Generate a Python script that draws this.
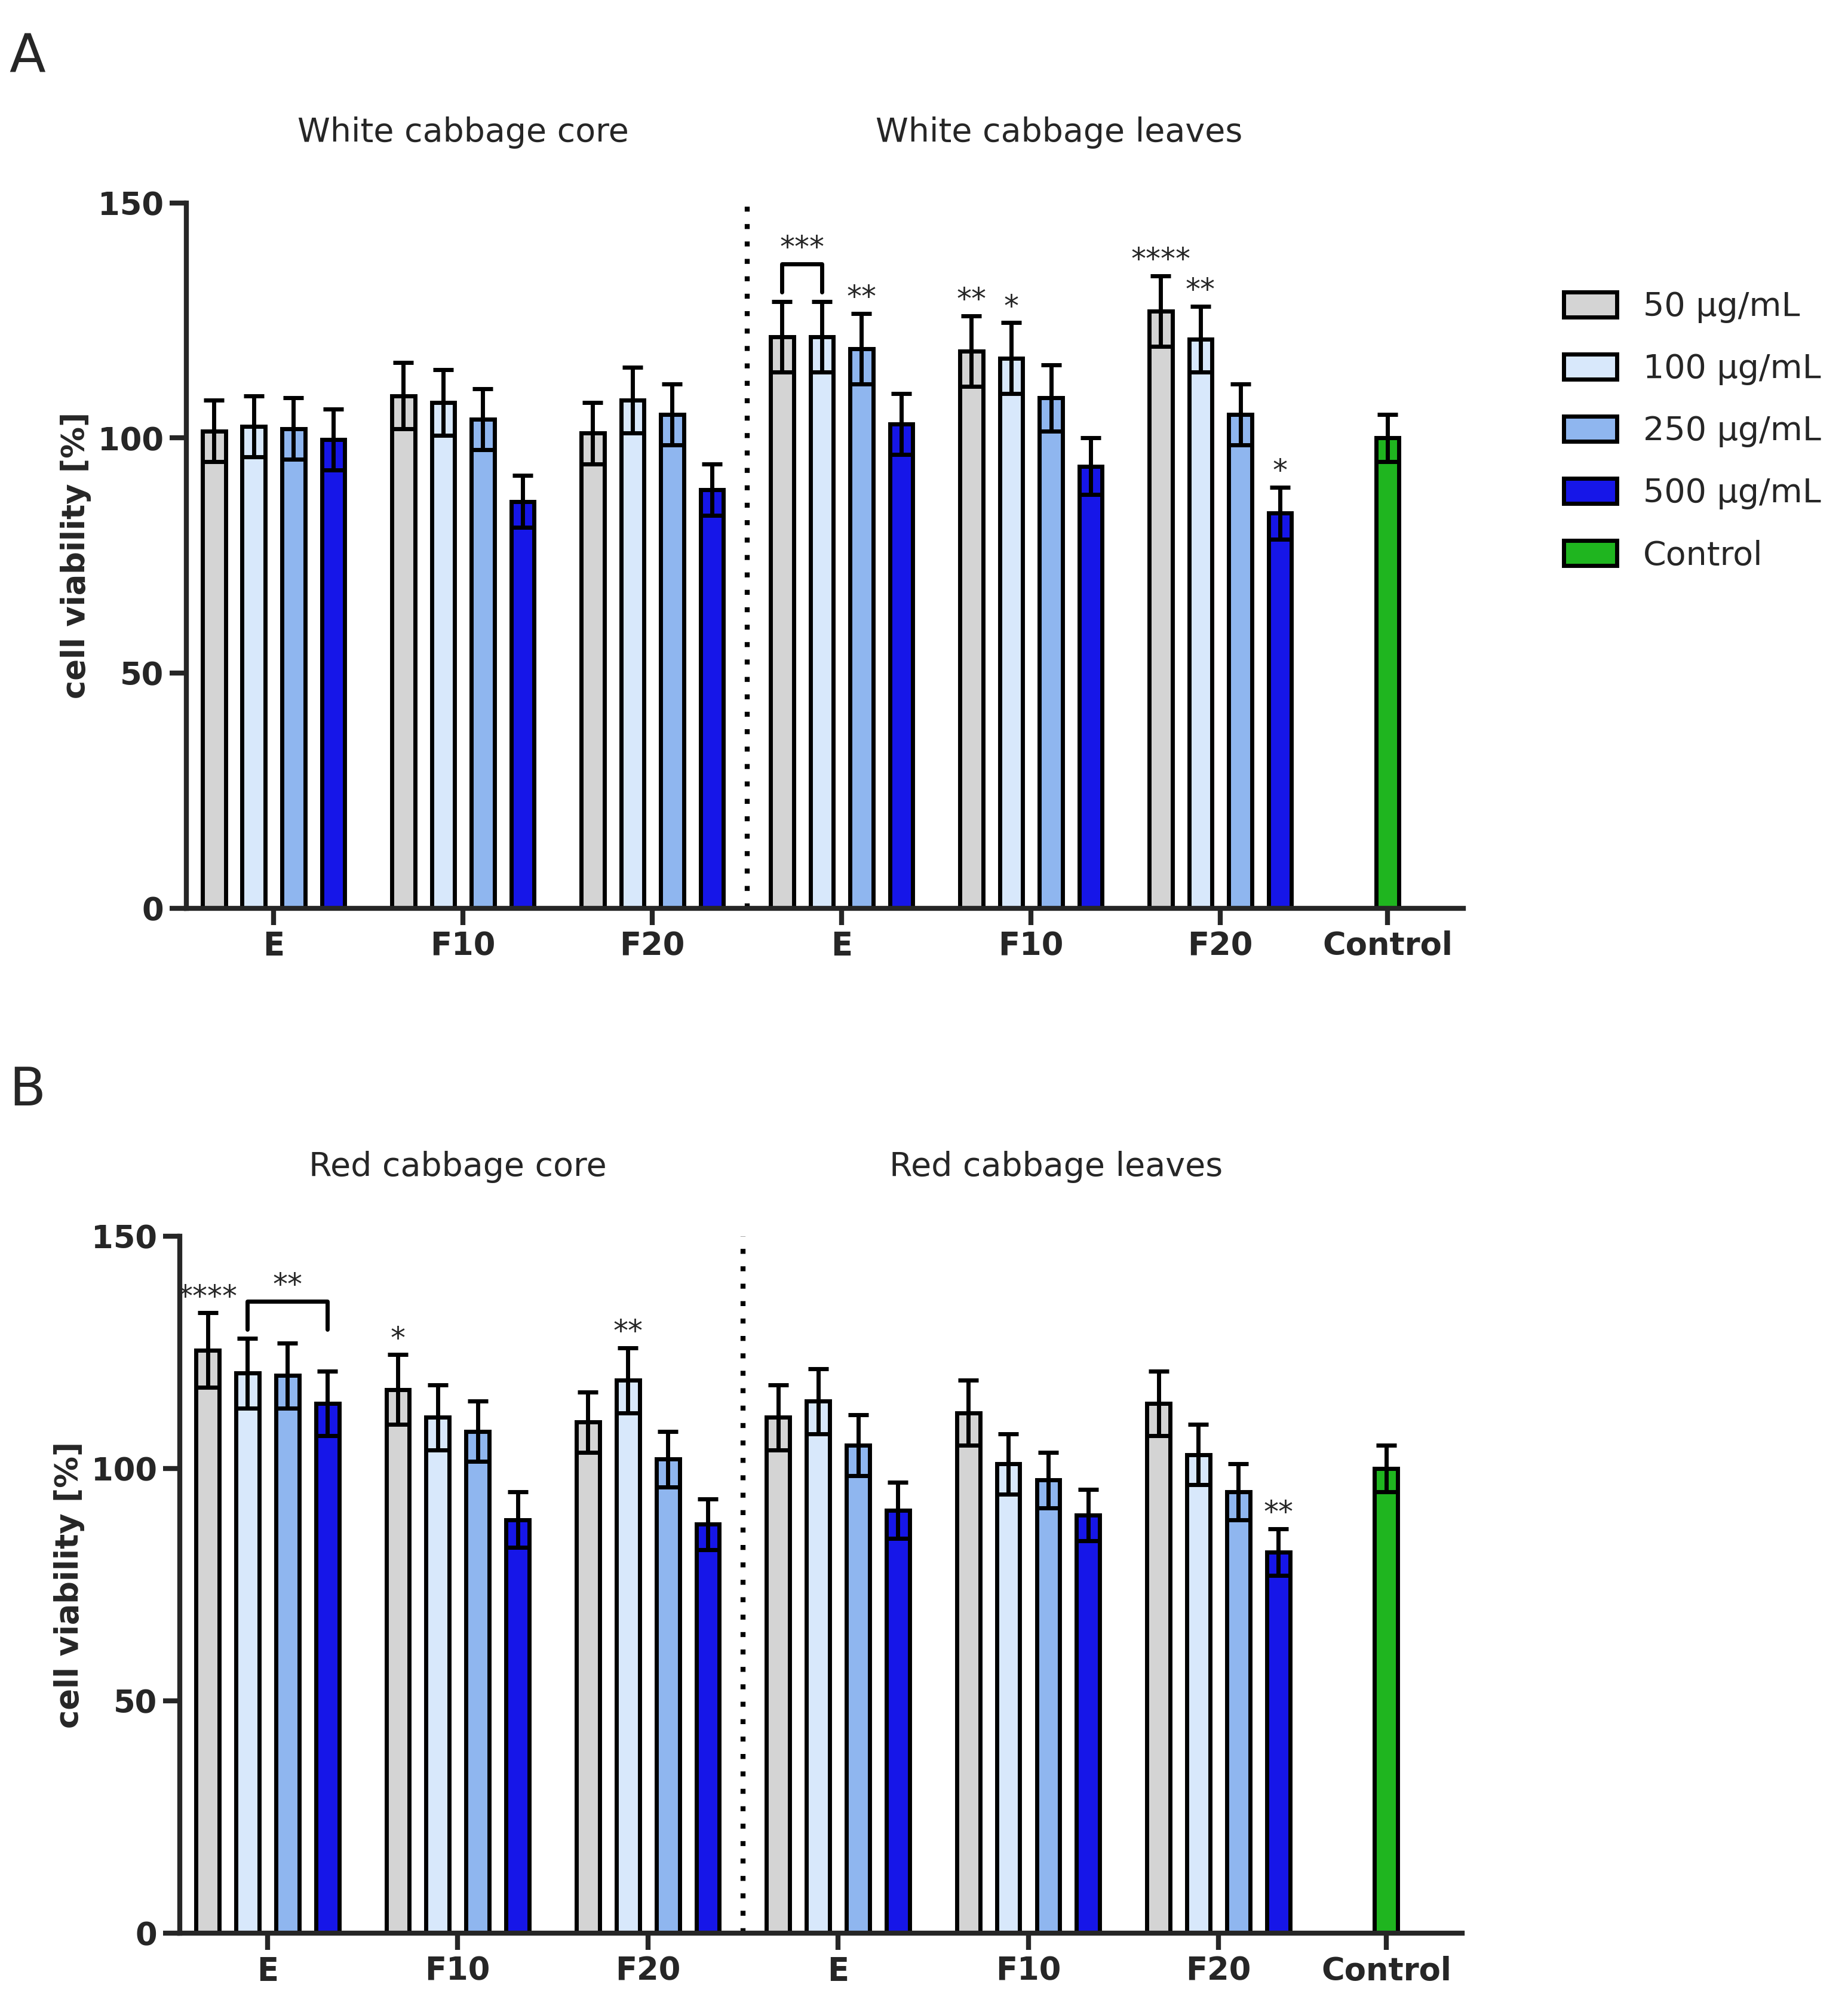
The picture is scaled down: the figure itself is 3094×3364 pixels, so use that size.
import numpy as np, pandas as pd, seaborn as sns, matplotlib
matplotlib.use("Agg")
import matplotlib.pyplot as plt
from matplotlib.patches import Patch

sns.set_style("ticks")
plt.rcParams['font.family'] = ['DejaVu Sans']

concs = ["50 µg/mL", "100 µg/mL", "250 µg/mL", "500 µg/mL"]
groups = ["E", "F10", "F20", "E", "F10", "F20"]
colors = ["#d4d4d4", "#d8e8fb", "#8fb6ef", "#1616e8"]
ctrl_color = "#1fb51f"

a_vals = [[101.5, 102.5, 102.0, 99.7], [109.0, 107.5, 104.0, 86.5], [101.0, 108.0, 105.0, 89.0],
          [121.5, 121.5, 119.0, 103.0], [118.5, 117.0, 108.5, 94.0], [127.0, 121.0, 105.0, 84.0]]
a_err = [[6.5, 6.5, 6.5, 6.5], [7, 7, 6.5, 5.5], [6.5, 7, 6.5, 5.5],
         [7.5, 7.5, 7.5, 6.5], [7.5, 7.5, 7, 6], [7.5, 7, 6.5, 5.5]]
b_vals = [[125.5, 120.5, 120.0, 114.0], [117.0, 111.0, 108.0, 89.0], [110.0, 119.0, 102.0, 88.0],
          [111.0, 114.5, 105.0, 91.0], [112.0, 101.0, 97.5, 90.0], [114.0, 103.0, 95.0, 82.0]]
b_err = [[8, 7.5, 7, 7], [7.5, 7, 6.5, 6], [6.5, 7, 6, 5.5],
         [7, 7, 6.5, 6], [7, 6.5, 6, 5.5], [7, 6.5, 6, 5]]
ctrl_val, ctrl_err = 100.0, 5.0

a_titles = ["White cabbage core", "White cabbage leaves"]
b_titles = ["Red cabbage core", "Red cabbage leaves"]
a_stars = [(3, 2, "**"), (4, 0, "**"), (4, 1, "*"), (5, 0, "****"), (5, 1, "**"), (5, 3, "*")]
a_bracket = (3, 0, 1, "***")
b_stars = [(0, 0, "****"), (1, 0, "*"), (2, 1, "**"), (5, 3, "**")]
b_bracket = (0, 1, 3, "**")

GAP = 4.76
def pos(g, i):
    return g * GAP + (i - 1.5)
CTRL_X = 28.0

fig = plt.figure(figsize=(15.47, 16.82), dpi=200)

def panel(rect, vals, errs, titles, stars, bracket, letter):
    ax = fig.add_axes(rect)
    rows = []
    for g in range(6):
        for i in range(4):
            rows.append(dict(x=pos(g, i), y=vals[g][i], e=errs[g][i], c=concs[i]))
    rows.append(dict(x=CTRL_X, y=ctrl_val, e=ctrl_err, c="Control"))
    df = pd.DataFrame(rows)
    pal = dict(zip(concs + ["Control"], colors + [ctrl_color]))
    sns.barplot(data=df, x="x", y="y", hue="c", palette=pal, native_scale=True,
                dodge=False, width=0.58, edgecolor="black", linewidth=2.5,
                legend=False, errorbar=None, ax=ax, saturation=1)
    ax.errorbar(df.x, df.y, yerr=df.e, fmt="none", ecolor="black", elinewidth=2.5,
                capsize=6, capthick=2.5)
    ax.set_xlim(-2.2, 29.9)
    ax.set_ylim(0, 150)
    ax.set_yticks([0, 50, 100, 150])
    ax.set_xticks([pos(g, 1.5) for g in range(6)] + [CTRL_X])
    ax.set_xticklabels(groups + ["Control"], fontweight="bold", fontsize=19)
    ax.tick_params(axis="y", labelsize=19, width=3, length=10)
    ax.tick_params(axis="x", width=3, length=10)
    for t in ax.get_yticklabels(): t.set_fontweight("bold")
    ax.set_ylabel("cell viability [%]", fontsize=19, fontweight="bold")
    ax.set_xlabel("")
    sns.despine(ax=ax)
    ax.spines["left"].set_linewidth(3); ax.spines["bottom"].set_linewidth(3)
    ax.axvline(11.9, color="black", ls=(0, (1, 2.5)), lw=3)
    ax.text(pos(1, 1.5), 163, titles[0], ha="center", fontsize=20, clip_on=False)
    ax.text(pos(4, 1.5) + 0.7, 163, titles[1], ha="center", fontsize=20, clip_on=False)
    for g, i, s in stars:
        ax.text(pos(g, i), vals[g][i] + errs[g][i] + 1.5, s, ha="center", fontsize=18)
    g, i0, i1, s = bracket
    top = max(vals[g][i] + errs[g][i] for i in range(i0, i1 + 1)) + 8
    ax.plot([pos(g, i0), pos(g, i0), pos(g, i1), pos(g, i1)], [top - 6, top, top, top - 6],
            color="black", lw=2.5)
    ax.text((pos(g, i0) + pos(g, i1)) / 2, top + 1.5, s, ha="center", fontsize=18)
    fig.text(0.005, rect[1] + rect[3] + 0.065, letter, fontsize=32)
    return ax

panel([0.1007, 0.548, 0.691, 0.351], a_vals, a_err, a_titles, a_stars, a_bracket, "A")
panel([0.0972, 0.0377, 0.694, 0.347], b_vals, b_err, b_titles, b_stars, b_bracket, "B")

handles = [Patch(facecolor=c, edgecolor="black", linewidth=2.5) for c in colors + [ctrl_color]]
fig.legend(handles, concs + ["Control"], loc="upper left", bbox_to_anchor=(0.83, 0.87),
           frameon=False, fontsize=20, handlelength=1.6, handleheight=0.8, labelspacing=0.9)
fig.savefig("out.png", dpi=200)
